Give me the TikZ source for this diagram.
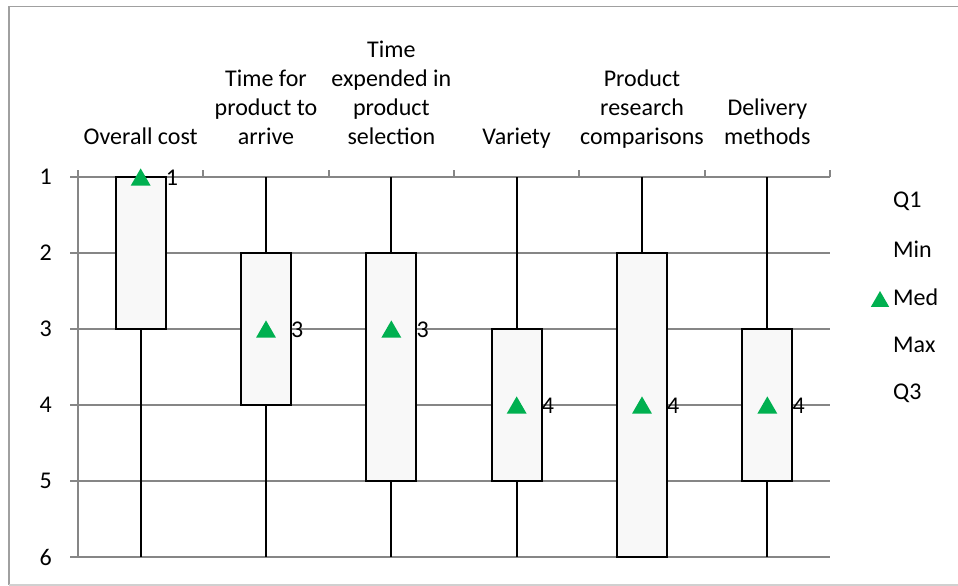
\documentclass[tikz,border=0pt]{standalone}
\usepackage{fontspec}
\setmainfont{Carlito}
\usetikzlibrary{shapes.geometric}

\definecolor{gridgray}{HTML}{868686}
\definecolor{framegray}{HTML}{A0A0A0}
\definecolor{framelight}{HTML}{D0D0D0}
\definecolor{boxfill}{HTML}{F8F8F8}
\definecolor{medgreen}{HTML}{00B050}

\tikzset{
  gridline/.style={gridgray,line width=2pt},
  whisker/.style={black,line width=1.8pt},
  boxplot/.style={draw=black,fill=boxfill,line width=2pt},
  medmark/.style={regular polygon,regular polygon sides=3,fill=medgreen,
    minimum size=23pt,inner sep=0pt,yshift=-2.9pt},
  catlabel/.style={align=center,anchor=base,inner sep=0pt},
  vallabel/.style={anchor=west,inner sep=0pt},
  axlabel/.style={anchor=east,inner sep=0pt},
  legendlabel/.style={anchor=west,inner sep=0pt}
}

\begin{document}
\begin{tikzpicture}[x=1pt,y=-1pt,font=\fontsize{24}{29}\selectfont]
\useasboundingbox (0,0) rectangle (958,586);

\def\bw{25}   % half box width
\def\xa{78}   % left end of plot
\def\xb{830}  % right end of plot

% frame (open on the right)
\draw[framegray,line width=1.5pt] (958,6.5)--(9,6.5)--(9,585);
\draw[framelight,line width=1.5pt] (9,585)--(958,585);

% grid and value axis
\draw[gridline] (\xa,170)--(\xa,557);
\foreach \v/\y in {1/177,2/253,3/329,4/405,5/481,6/557}{
  \draw[gridline] (70,\y)--(\xb,\y);
  \node[axlabel] (y\v) at (52,\y) {\v};
}
\foreach \x in {203.33,328.67,454,579.33,704.67,830}
  \draw[gridline] (\x,170)--(\x,177);

% categories
\node[catlabel] (c1) at (140.67,144) {Overall cost};
\node[catlabel] (c2) at (266,144) {Time for\\product to\\arrive};
\node[catlabel] (c3) at (391.33,144) {Time\\expended in\\product\\selection};
\node[catlabel] (c4) at (516.67,144) {Variety};
\node[catlabel] (c5) at (642,144) {Product\\research\\comparisons};
\node[catlabel] (c6) at (767.33,144) {Delivery\\methods};

% Overall cost
\draw[whisker] (140.67,329)--(140.67,557);
\draw[boxplot] (140.67-\bw,177) rectangle (140.67+\bw,329);
\node[medmark] (m1) at (140.67,177) {};
\node[vallabel] (v1) at (140.67+\bw,178) {1};

% Time for product to arrive
\draw[whisker] (266,177)--(266,557);
\draw[boxplot] (266-\bw,253) rectangle (266+\bw,405);
\node[medmark] (m2) at (266,329) {};
\node[vallabel] (v2) at (266+\bw,330) {3};

% Time expended in product selection
\draw[whisker] (391.33,177)--(391.33,557);
\draw[boxplot] (391.33-\bw,253) rectangle (391.33+\bw,481);
\node[medmark] (m3) at (391.33,329) {};
\node[vallabel] (v3) at (391.33+\bw,330) {3};

% Variety
\draw[whisker] (516.67,177)--(516.67,557);
\draw[boxplot] (516.67-\bw,329) rectangle (516.67+\bw,481);
\node[medmark] (m4) at (516.67,405) {};
\node[vallabel] (v4) at (516.67+\bw,406) {4};

% Product research comparisons
\draw[whisker] (642,177)--(642,557);
\draw[boxplot] (642-\bw,253) rectangle (642+\bw,557);
\node[medmark] (m5) at (642,405) {};
\node[vallabel] (v5) at (642+\bw,406) {4};

% Delivery methods
\draw[whisker] (767.33,177)--(767.33,557);
\draw[boxplot] (767.33-\bw,329) rectangle (767.33+\bw,481);
\node[medmark] (m6) at (767.33,405) {};
\node[vallabel] (v6) at (767.33+\bw,406) {4};

% legend
\node[legendlabel] (q1) at (893,201) {Q1};
\node[legendlabel] (mn) at (893,249) {Min};
\node[legendlabel] (md) at (893,297) {Med};
\node[legendlabel] (mx) at (893,345) {Max};
\node[legendlabel] (q3) at (893,393) {Q3};
\node[medmark,minimum size=21pt,yshift=-2.6pt] (lm) at (880,296) {};

\end{tikzpicture}
\end{document}
